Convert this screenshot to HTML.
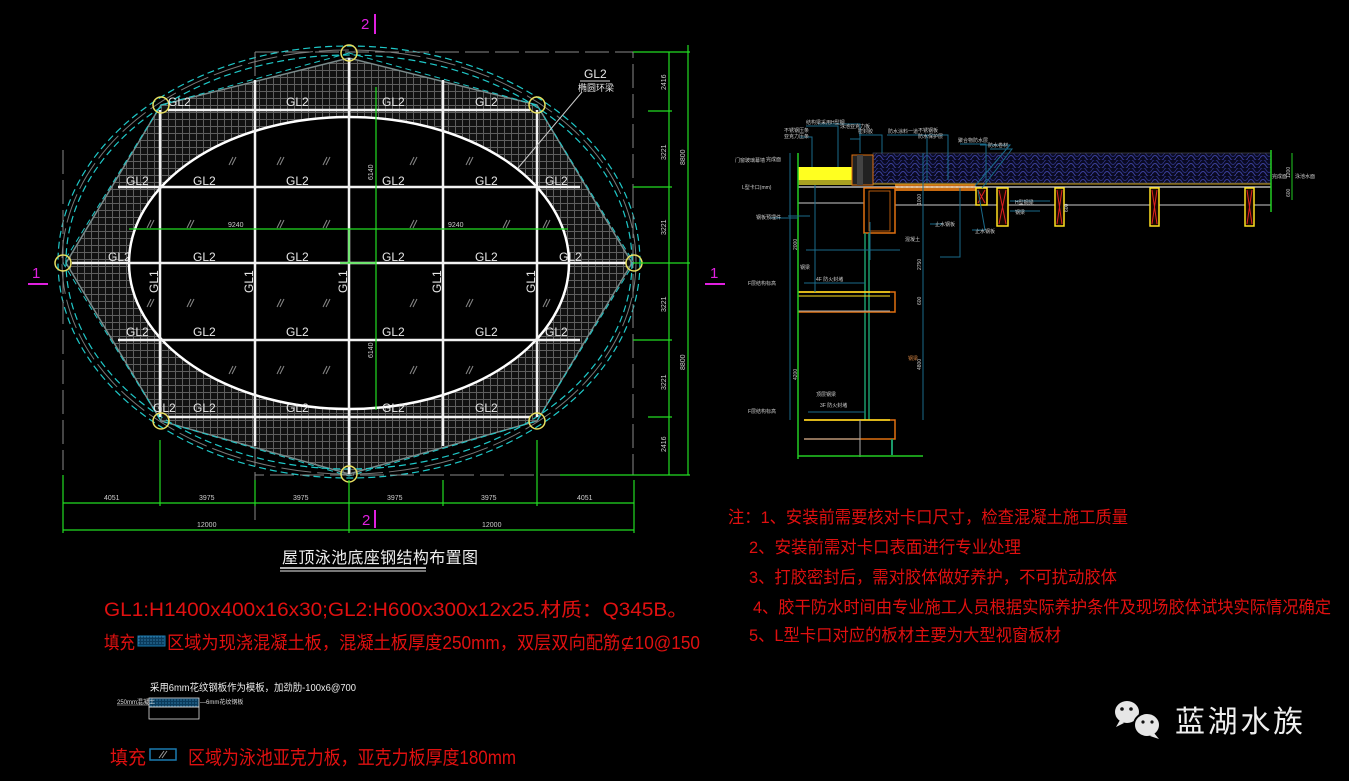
<!DOCTYPE html>
<html><head><meta charset="utf-8"><style>
html,body{margin:0;padding:0;background:#000;width:1349px;height:781px;overflow:hidden}
svg{display:block}
text{font-family:"Liberation Sans","Noto Sans CJK SC",sans-serif}
</style></head><body>
<svg width="1349" height="781" viewBox="0 0 1349 781" xmlns="http://www.w3.org/2000/svg">
<defs>
<pattern id="grid" width="7" height="7" patternUnits="userSpaceOnUse">
<rect width="7" height="7" fill="#111"/>
<path d="M0 0.5H7M0.5 0V7" stroke="#5e5e5e" stroke-width="1"/>
</pattern>
<pattern id="wave" width="12" height="8" patternUnits="userSpaceOnUse">
<rect width="12" height="8" fill="#0a0a22"/>
<path d="M0 6 Q3 1 6 6 T12 6" stroke="#3a3f9a" fill="none" stroke-width="1"/>
<path d="M0 2 Q3 -3 6 2 T12 2" stroke="#2a2f7a" fill="none" stroke-width="1"/>
</pattern>
<pattern id="orng" width="5" height="5" patternUnits="userSpaceOnUse">
<rect width="5" height="5" fill="#c86a10"/><circle cx="2" cy="2" r="1" fill="#ffb030"/>
</pattern>
<pattern id="blu" width="3" height="3" patternUnits="userSpaceOnUse">
<rect width="3" height="3" fill="#0a3a5a"/><circle cx="1" cy="1" r="0.6" fill="#4aa0d0"/>
</pattern>
</defs>

<polygon points="349,58 161,105 66,263 161,421 349,474 537,421 632,263 537,105" fill="url(#grid)" stroke="#7a8a8a" stroke-width="1.5"/>
<ellipse cx="349" cy="263" rx="220" ry="146" fill="#000" stroke="#fff" stroke-width="2.5"/>

<ellipse cx="349" cy="262" rx="291" ry="216" fill="none" stroke="#1fc8c8" stroke-width="1.2" stroke-dasharray="7,4"/>
<ellipse cx="349" cy="262" rx="287" ry="212" fill="none" stroke="#777" stroke-width="1" stroke-dasharray="30,6"/>
<ellipse cx="349" cy="262" rx="283" ry="207" fill="none" stroke="#1fc8c8" stroke-width="1.2" stroke-dasharray="7,4"/>
<polygon points="349,53 161,105 63,263 161,421 349,476 537,421 634,263 537,105" fill="none" stroke="#1fc8c8" stroke-width="1" stroke-dasharray="6,4"/>

<g stroke="#888" stroke-width="1" stroke-dasharray="24,6" fill="none">
<path d="M255 52H633V475H255"/>
<path d="M63 150V470"/>
<path d="M255 52V520"/>
</g>

<g stroke="#f2f2f2" stroke-width="2.5">
<line x1="168" y1="110" x2="530" y2="110"/>
<line x1="118" y1="187" x2="580" y2="187"/>
<line x1="72" y1="263" x2="626" y2="263"/>
<line x1="118" y1="340" x2="580" y2="340"/>
<line x1="168" y1="417" x2="530" y2="417"/>
<line x1="160" y1="110" x2="160" y2="417"/>
<line x1="255" y1="80" x2="255" y2="446"/>
<line x1="349" y1="58" x2="349" y2="474"/>
<line x1="443" y1="80" x2="443" y2="446"/>
<line x1="537" y1="110" x2="537" y2="417"/>
</g>

<g stroke="#888" stroke-width="1">
<path d="M229 165l4-8M232 165l4-8M277 165l4-8M280 165l4-8M323 165l4-8M326 165l4-8M410 165l4-8M413 165l4-8M466 165l4-8M469 165l4-8"/>
<path d="M147 228l4-8M150 228l4-8M187 228l4-8M190 228l4-8M277 228l4-8M280 228l4-8M323 228l4-8M326 228l4-8M410 228l4-8M413 228l4-8M503 228l4-8M506 228l4-8M543 228l4-8M546 228l4-8"/>
<path d="M147 307l4-8M150 307l4-8M187 307l4-8M190 307l4-8M277 307l4-8M280 307l4-8M323 307l4-8M326 307l4-8M410 307l4-8M413 307l4-8M466 307l4-8M469 307l4-8M543 307l4-8M546 307l4-8"/>
<path d="M229 374l4-8M232 374l4-8M277 374l4-8M280 374l4-8M323 374l4-8M326 374l4-8M410 374l4-8M413 374l4-8M466 374l4-8M469 374l4-8"/>
</g>

<g stroke="#22dd22" stroke-width="1.2" fill="none">
<line x1="376" y1="87" x2="376" y2="410"/>
<line x1="129" y1="229" x2="568" y2="229"/>
<line x1="349" y1="229" x2="349" y2="263"/>
<line x1="340" y1="263" x2="376" y2="263"/>
</g>
<g fill="#ccc" font-size="7">
<text x="228" y="227">9240</text><text x="448" y="227">9240</text>
<text transform="translate(373,180) rotate(-90)">6140</text>
<text transform="translate(373,358) rotate(-90)">6140</text>
</g>

<g fill="none" stroke="#e8e060" stroke-width="1.5">
<circle cx="349" cy="53" r="8"/><circle cx="161" cy="105" r="8"/><circle cx="537" cy="105" r="8"/>
<circle cx="63" cy="263" r="8"/><circle cx="634" cy="263" r="8"/>
<circle cx="161" cy="421" r="8"/><circle cx="537" cy="421" r="8"/><circle cx="349" cy="474" r="8"/>
</g>

<g fill="#e8e8e8" font-size="12">
<text x="168" y="106">GL2</text><text x="286" y="106">GL2</text><text x="382" y="106">GL2</text><text x="475" y="106">GL2</text>
<text x="126" y="185">GL2</text><text x="193" y="185">GL2</text><text x="286" y="185">GL2</text><text x="382" y="185">GL2</text><text x="475" y="185">GL2</text><text x="545" y="185">GL2</text>
<text x="108" y="261">GL2</text><text x="193" y="261">GL2</text><text x="286" y="261">GL2</text><text x="382" y="261">GL2</text><text x="475" y="261">GL2</text><text x="559" y="261">GL2</text>
<text x="126" y="336">GL2</text><text x="193" y="336">GL2</text><text x="286" y="336">GL2</text><text x="382" y="336">GL2</text><text x="475" y="336">GL2</text><text x="545" y="336">GL2</text>
<text x="153" y="412">GL2</text><text x="193" y="412">GL2</text><text x="286" y="412">GL2</text><text x="382" y="412">GL2</text><text x="475" y="412">GL2</text>
<text transform="translate(158,293) rotate(-90)">GL1</text>
<text transform="translate(253,293) rotate(-90)">GL1</text>
<text transform="translate(347,293) rotate(-90)">GL1</text>
<text transform="translate(441,293) rotate(-90)">GL1</text>
<text transform="translate(535,293) rotate(-90)">GL1</text>
<text x="584" y="78">GL2</text>
</g>
<text x="578" y="91" fill="#e8e8e8" font-size="9">椭圆环梁</text>
<line x1="580" y1="81" x2="610" y2="81" stroke="#ddd"/>
<line x1="582" y1="92" x2="518" y2="168" stroke="#ccc"/>

<g stroke="#22dd22" stroke-width="1.2">
<line x1="669" y1="52" x2="669" y2="475"/><line x1="688" y1="45" x2="688" y2="475"/>
<line x1="633" y1="52" x2="690" y2="52"/><line x1="648" y1="111" x2="672" y2="111"/>
<line x1="633" y1="187" x2="672" y2="187"/><line x1="633" y1="263" x2="690" y2="263"/>
<line x1="633" y1="340" x2="672" y2="340"/><line x1="648" y1="417" x2="672" y2="417"/>
<line x1="560" y1="475" x2="690" y2="475"/>
</g>
<g fill="#ccc" font-size="7">
<text transform="translate(666,90) rotate(-90)">2416</text>
<text transform="translate(666,160) rotate(-90)">3221</text>
<text transform="translate(666,235) rotate(-90)">3221</text>
<text transform="translate(666,312) rotate(-90)">3221</text>
<text transform="translate(666,390) rotate(-90)">3221</text>
<text transform="translate(666,452) rotate(-90)">2416</text>
<text transform="translate(685,165) rotate(-90)">8800</text>
<text transform="translate(685,370) rotate(-90)">8800</text>
</g>

<g stroke="#22dd22" stroke-width="1.2">
<line x1="63" y1="503" x2="634" y2="503"/><line x1="63" y1="530" x2="634" y2="530"/>
<line x1="63" y1="475" x2="63" y2="533"/><line x1="160" y1="440" x2="160" y2="506"/>
<line x1="255" y1="480" x2="255" y2="506"/><line x1="349" y1="480" x2="349" y2="533"/>
<line x1="443" y1="480" x2="443" y2="506"/><line x1="537" y1="440" x2="537" y2="506"/>
<line x1="634" y1="480" x2="634" y2="533"/>
</g>
<g fill="#ccc" font-size="7">
<text x="104" y="500">4051</text><text x="199" y="500">3975</text><text x="293" y="500">3975</text>
<text x="387" y="500">3975</text><text x="481" y="500">3975</text><text x="577" y="500">4051</text>
<text x="197" y="527">12000</text><text x="482" y="527">12000</text>
</g>

<g fill="#e020e0" font-size="15">
<text x="361" y="29">2</text><text x="32" y="278">1</text><text x="710" y="278">1</text><text x="362" y="525">2</text>
</g>
<g stroke="#e020e0" stroke-width="2">
<line x1="375" y1="14" x2="375" y2="34"/><line x1="28" y1="284" x2="48" y2="284"/>
<line x1="705" y1="284" x2="725" y2="284"/><line x1="375" y1="510" x2="375" y2="528"/>
</g>

<text x="282" y="563" fill="#eee" font-size="16" textLength="196" font-family="Liberation Serif,Noto Serif CJK SC,serif">屋顶泳池底座钢结构布置图</text>
<line x1="280" y1="568" x2="426" y2="568" stroke="#eee" stroke-width="1.5"/>
<line x1="280" y1="571" x2="426" y2="571" stroke="#eee" stroke-width="1"/>

<g fill="#e01010">
<text x="104" y="616" font-size="19" textLength="584" lengthAdjust="spacingAndGlyphs">GL1:H1400x400x16x30;GL2:H600x300x12x25.材质：Q345B。</text>
<text x="104" y="649" font-size="18" textLength="31" lengthAdjust="spacingAndGlyphs">填充</text>
<text x="167" y="649" font-size="18" textLength="533" lengthAdjust="spacingAndGlyphs">区域为现浇混凝土板，混凝土板厚度250mm，双层双向配筋⊈10@150</text>
<text x="110" y="764" font-size="19" textLength="36" lengthAdjust="spacingAndGlyphs">填充</text>
<text x="188" y="764" font-size="19" textLength="328" lengthAdjust="spacingAndGlyphs">区域为泳池亚克力板，亚克力板厚度180mm</text>
</g>
<rect x="138" y="636" width="27" height="10" fill="url(#blu)" stroke="#1a7ab0"/>
<rect x="150" y="749" width="26" height="11" fill="none" stroke="#1a7ab0" stroke-width="1.5"/>
<path d="M159 758l5-7M162 758l5-7" stroke="#999"/>

<text x="150" y="691" fill="#eee" font-size="10" textLength="206" lengthAdjust="spacingAndGlyphs">采用6mm花纹钢板作为模板，加劲肋-100x6@700</text>
<rect x="149" y="698" width="50" height="9" fill="url(#blu)" stroke="#ddd" stroke-width="0.8"/>
<rect x="149" y="707" width="50" height="12" fill="none" stroke="#ddd" stroke-width="0.8"/>
<text x="117" y="704" fill="#ddd" font-size="6">250mm混凝土</text>
<text x="200" y="704" fill="#ddd" font-size="6">—6mm花纹钢板</text>
<line x1="117" y1="705" x2="149" y2="705" stroke="#ddd" stroke-width="0.6"/>

<rect x="873" y="153" width="398" height="30" fill="url(#wave)" stroke="#555" stroke-width="0.6"/>
<rect x="798" y="167" width="54" height="13" fill="#ffff20"/>
<rect x="798" y="180" width="54" height="5" fill="#a8a020"/>
<rect x="852" y="155" width="21" height="30" fill="#222" stroke="#e07010" stroke-width="1"/>
<rect x="857" y="155" width="6" height="30" fill="#444"/>
<rect x="895" y="184" width="81" height="7" fill="url(#orng)"/>
<line x1="798" y1="187" x2="1271" y2="187" stroke="#ddd" stroke-width="1.2"/>
<line x1="873" y1="184" x2="1271" y2="184" stroke="#cca020" stroke-width="1"/>
<line x1="895" y1="205" x2="1271" y2="205" stroke="#ccc" stroke-width="1"/>
<line x1="798" y1="203" x2="864" y2="203" stroke="#ccc" stroke-width="1"/>
<g stroke="#ffe020" stroke-width="1.5" fill="#1a0800">
<rect x="976" y="188" width="11" height="17"/><rect x="997" y="188" width="11" height="38"/>
<rect x="1055" y="188" width="9" height="38"/><rect x="1150" y="188" width="9" height="38"/>
<rect x="1245" y="188" width="9" height="38"/>
</g>
<g stroke="#e02020" stroke-width="1">
<path d="M978 190l7 13M985 190l-7 13M999 190l7 34M1006 190l-7 34M1057 190l5 34M1062 190l-5 34M1152 190l5 34M1157 190l-5 34M1247 190l5 34M1252 190l-5 34"/>
</g>
<rect x="864" y="188" width="31" height="45" fill="none" stroke="#e07010" stroke-width="1.5"/>
<rect x="869" y="191" width="21" height="40" fill="none" stroke="#e07010" stroke-width="0.8"/>
<line x1="865" y1="233" x2="865" y2="420" stroke="#1a9a6a" stroke-width="1.5"/>
<line x1="869" y1="233" x2="869" y2="420" stroke="#1a9a6a" stroke-width="1.5"/>
<path d="M798 292H895V312H798" fill="none" stroke="#e07010" stroke-width="1.5"/>
<line x1="798" y1="292" x2="890" y2="292" stroke="#ffe020" stroke-width="1.5"/>
<line x1="798" y1="296" x2="890" y2="296" stroke="#ffe020" stroke-width="1"/>
<line x1="798" y1="311" x2="890" y2="311" stroke="#aaa" stroke-width="1"/>
<path d="M804 420H895V439H804" fill="none" stroke="#e07010" stroke-width="1.5"/>
<line x1="804" y1="420" x2="890" y2="420" stroke="#ffe020" stroke-width="1.5"/>
<line x1="804" y1="439" x2="860" y2="439" stroke="#aaa" stroke-width="1"/>
<line x1="860" y1="420" x2="860" y2="457" stroke="#aaa"/>
<line x1="892" y1="439" x2="892" y2="455" stroke="#1a9a6a" stroke-width="2"/>
<line x1="798" y1="153" x2="798" y2="459" stroke="#22cc22" stroke-width="1.5"/>
<line x1="798" y1="456" x2="923" y2="456" stroke="#22cc22" stroke-width="1.5"/>
<line x1="1271" y1="150" x2="1271" y2="212" stroke="#22cc22" stroke-width="1.5"/>
<line x1="1292" y1="153" x2="1292" y2="200" stroke="#22cc22" stroke-width="1"/>
<g stroke="#1a6a8a" stroke-width="1" fill="none">
<line x1="790" y1="153" x2="790" y2="420"/><line x1="923" y1="153" x2="923" y2="420"/>
<line x1="815" y1="185" x2="815" y2="292"/>
<path d="M806 126H838V167M800 137H812V167M818 124H860V153M850 139H860V153M859 135H882V153M887 135H927V183M917 135H948V180M960 144H986V185M980 145H1010L975 186M990 149H1012L982 188M806 250H900M870 222L870 260M788 216H810M770 218H798M930 224H943M940 257H960V188M972 230H985L978 190M1010 201H1050M1010 211H1040M804 283H865M808 412H865"/>
</g>
<g fill="#cccccc" font-size="5">
<text x="806" y="124">结构梁采用H型钢</text><text x="840" y="128">泳池亚克力板</text>
<text x="784" y="132">不锈钢压条</text><text x="784" y="138">亚克力压条</text>
<text x="858" y="133">密封胶</text><text x="888" y="133">防水涂料一道</text>
<text x="918" y="132">不锈钢板</text><text x="918" y="138">防水保护层</text>
<text x="958" y="142">聚合物防水层</text><text x="988" y="147">防水卷材</text>
<text x="735" y="162">门窗玻璃幕墙</text><text x="766" y="161">完成面</text>
<text x="742" y="189">L型卡口(mm)</text><text x="756" y="219">钢板预埋件</text>
<text x="935" y="226">止水钢板</text><text x="1015" y="204">H型钢梁</text><text x="1015" y="214">钢梁</text>
<text x="905" y="241">混凝土</text><text x="975" y="233">止水钢板</text>
<text x="748" y="285">F层结构标高</text><text x="816" y="281">4F 防火封堵</text>
<text x="800" y="269">钢梁</text><text x="816" y="396">顶层钢梁</text>
<text x="748" y="413">F层结构标高</text><text x="820" y="407">3F 防火封堵</text>
<text x="1272" y="178">完成面</text><text x="1295" y="178">泳池水面</text>
</g>
<g fill="#ccc" font-size="5">
<text transform="translate(797,250) rotate(-90)">2000</text>
<text transform="translate(797,380) rotate(-90)">4200</text>
<text transform="translate(921,270) rotate(-90)">2750</text>
<text transform="translate(921,370) rotate(-90)">4800</text>
<text transform="translate(921,305) rotate(-90)">600</text>
<text transform="translate(921,205) rotate(-90)">1000</text>
<text transform="translate(1068,212) rotate(-90)">600</text>
<text transform="translate(1290,178) rotate(-90)">1200</text>
<text transform="translate(1290,197) rotate(-90)">600</text>
</g>
<text x="908" y="360" fill="#d08040" font-size="5">钢梁</text>

<g fill="#e01010" font-size="17">
<text x="728" y="523" textLength="400" lengthAdjust="spacingAndGlyphs">注：1、安装前需要核对卡口尺寸，检查混凝土施工质量</text>
<text x="749" y="553" textLength="272" lengthAdjust="spacingAndGlyphs">2、安装前需对卡口表面进行专业处理</text>
<text x="749" y="583" textLength="368" lengthAdjust="spacingAndGlyphs">3、打胶密封后，需对胶体做好养护，不可扰动胶体</text>
<text x="753" y="613" textLength="578" lengthAdjust="spacingAndGlyphs">4、胶干防水时间由专业施工人员根据实际养护条件及现场胶体试块实际情况确定</text>
<text x="749" y="641" textLength="312" lengthAdjust="spacingAndGlyphs">5、L型卡口对应的板材主要为大型视窗板材</text>
</g>

<g fill="#e6e6e6">
<ellipse cx="1127" cy="712" rx="12" ry="11"/>
<path d="M1120 720l-4 7 8-4z"/>
<ellipse cx="1147" cy="725" rx="13" ry="12" stroke="#000" stroke-width="2"/>
<path d="M1154 733l5 6-9-3z"/>
</g>
<g fill="#111"><circle cx="1122" cy="709" r="1.8"/><circle cx="1131" cy="709" r="1.8"/><circle cx="1143" cy="722" r="1.6"/><circle cx="1152" cy="722" r="1.6"/></g>
<text x="1175" y="732" fill="#eee" font-size="30" textLength="128" font-family="Liberation Sans,Noto Sans CJK SC,sans-serif">蓝湖水族</text>
</svg>
</body></html>
